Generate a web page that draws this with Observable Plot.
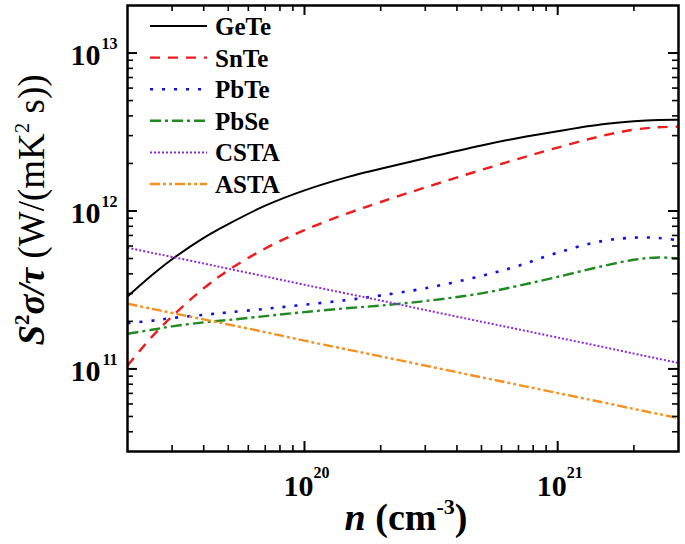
<!DOCTYPE html>
<html>
<head>
<meta charset="utf-8">
<script src="https://cdn.jsdelivr.net/npm/d3@7"></script>
<script src="https://cdn.jsdelivr.net/npm/@observablehq/plot@0.6"></script>
<style>
  html, body { margin: 0; padding: 0; background: #fff; }
  #chart svg { display: block; }
</style>
</head>
<body>
<div id="chart"></div>
<script>
// ---- data ----
const n = [2e19, 2.5e19, 3e19, 4e19, 5e19, 7e19, 1e20, 1.5e20, 2e20, 3e20, 5e20, 7e20, 1e21, 1.5e21, 2e21, 2.5e21, 3e21];
const GeTe = [2.87e11, 3.93e11, 4.95e11, 6.76e11, 8.26e11, 1.08e12, 1.35e12, 1.65e12, 1.85e12, 2.16e12, 2.6e12, 2.9e12, 3.2e12, 3.54e12, 3.70e12, 3.77e12, 3.78e12];
const SnTe = [1.05e11, 1.6e11, 2.15e11, 3.24e11, 4.21e11, 5.79e11, 7.57e11, 9.73e11, 1.14e12, 1.41e12, 1.82e12, 2.14e12, 2.52e12, 2.99e12, 3.27e12, 3.39e12, 3.42e12];
const PbTe = [1.95e11, 2.02e11, 2.1e11, 2.2e11, 2.28e11, 2.4e11, 2.55e11, 2.74e11, 2.92e11, 3.24e11, 3.88e11, 4.5e11, 5.45e11, 6.45e11, 6.78e11, 6.75e11, 6.52e11];
const PbSe = [1.67e11, 1.77e11, 1.86e11, 1.97e11, 2.04e11, 2.16e11, 2.29e11, 2.43e11, 2.52e11, 2.69e11, 3.01e11, 3.36e11, 3.83e11, 4.47e11, 4.91e11, 5.08e11, 5.0e11];
const CSTA = [5.86e11, 5.43e11, 5.12e11, 4.65e11, 4.31e11, 3.85e11, 3.41e11, 2.98e11, 2.71e11, 2.36e11, 1.99e11, 1.78e11, 1.58e11, 1.38e11, 1.25e11, 1.16e11, 1.09e11];
const ASTA = [2.59e11, 2.40e11, 2.26e11, 2.06e11, 1.91e11, 1.71e11, 1.51e11, 1.32e11, 1.20e11, 1.05e11, 8.85e10, 7.92e10, 7.03e10, 6.15e10, 5.58e10, 5.18e10, 4.89e10];

const seriesNames = ["GeTe", "SnTe", "PbTe", "PbSe", "CSTA", "ASTA"];
const seriesValues = [GeTe, SnTe, PbTe, PbSe, CSTA, ASTA];

const xMajorTicks = [1e20, 1e21];
const xMajorExps = ["20", "21"];
const xMinorTicks = [3e19, 4e19, 5e19, 6e19, 7e19, 8e19, 9e19, 2e20, 3e20, 4e20, 5e20, 6e20, 7e20, 8e20, 9e20, 2e21];
const yMajorTicks = [1e11, 1e12, 1e13];
const yMajorExps = ["11", "12", "13"];
const yMinorTicks = [4e10, 5e10, 6e10, 7e10, 8e10, 9e10, 2e11, 3e11, 4e11, 5e11, 6e11, 7e11, 8e11, 9e11, 2e12, 3e12, 4e12, 5e12, 6e12, 7e12, 8e12, 9e12];

// ---- styles ----
const styles = {
  GeTe: {stroke: "#000000", dash: null, width: 2},
  SnTe: {stroke: "#ee1c1c", dash: "10,8", width: 2.4},
  PbTe: {stroke: "#1010e0", dash: "3,9", width: 2.6},
  PbSe: {stroke: "#1f8a1f", dash: "11,4,3,4", width: 2.4},
  CSTA: {stroke: "#8a2be2", dash: "2,2", width: 2},
  ASTA: {stroke: "#f7901e", dash: "10,3,3,3,3,3", width: 2.4}
};

const W = 685, H = 544;
const mL = 127, mR = 7, mT = 5, mB = 93;
const pw = W - mL - mR, ph = H - mT - mB;
const FONT = "'Liberation Serif', 'Times New Roman', serif";
const majLen = 10, minLen = 6;

const rows = seriesNames.flatMap((name, si) => n.map((x, i) => ({name, x, y: seriesValues[si][i]})));

const lineMarks = seriesNames.map(name => Plot.line(rows.filter(d => d.name === name), {
  x: "x", y: "y",
  stroke: styles[name].stroke,
  strokeWidth: styles[name].width,
  strokeDasharray: styles[name].dash,
  strokeLinecap: "butt",
  strokeLinejoin: "round",
  curve: "catmull-rom"
}));

const tickStyle = (w) => ({stroke: "black", strokeWidth: w});

const plot = Plot.plot({
  width: W, height: H,
  marginLeft: mL, marginRight: mR, marginTop: mT, marginBottom: mB,
  x: {type: "log", domain: [2e19, 3e21], axis: null},
  y: {type: "log", domain: [3e10, 2e13], axis: null},
  style: {background: "white", fontFamily: FONT},
  marks: [
    ...lineMarks,
    // y ticks, left & right, inward
    Plot.tickY(yMajorTicks, {y: d => d, insetRight: pw - majLen, ...tickStyle(2)}),
    Plot.tickY(yMajorTicks, {y: d => d, insetLeft: pw - majLen, ...tickStyle(2)}),
    Plot.tickY(yMinorTicks, {y: d => d, insetRight: pw - minLen, ...tickStyle(1.6)}),
    Plot.tickY(yMinorTicks, {y: d => d, insetLeft: pw - minLen, ...tickStyle(1.6)}),
    // x ticks, bottom & top, inward
    Plot.tickX(xMajorTicks, {x: d => d, insetTop: ph - majLen, ...tickStyle(2)}),
    Plot.tickX(xMajorTicks, {x: d => d, insetBottom: ph - majLen, ...tickStyle(2)}),
    Plot.tickX(xMinorTicks, {x: d => d, insetTop: ph - minLen, ...tickStyle(1.6)}),
    Plot.tickX(xMinorTicks, {x: d => d, insetBottom: ph - minLen, ...tickStyle(1.6)}),
    Plot.frame({stroke: "black", strokeWidth: 2.5}),
    // x tick labels
    Plot.text(xMajorTicks, {x: d => d, text: () => "10", frameAnchor: "bottom", lineAnchor: "bottom",
      dy: 44, dx: -6, fontSize: 30, fontWeight: "bold", fill: "black"}),
    Plot.text(xMajorTicks, {x: d => d, text: (d, i) => xMajorExps[i], frameAnchor: "bottom", lineAnchor: "bottom",
      dy: 26, dx: 9, textAnchor: "start", fontSize: 16, fontWeight: "bold", fill: "black"}),
    // y tick labels
    Plot.text(yMajorTicks, {y: d => d, text: () => "10", frameAnchor: "left", lineAnchor: "bottom",
      dy: 12, dx: -27, textAnchor: "end", fontSize: 30, fontWeight: "bold", fill: "black"}),
    Plot.text(yMajorTicks, {y: d => d, text: (d, i) => yMajorExps[i], frameAnchor: "left", lineAnchor: "bottom",
      dy: -4, dx: -10, textAnchor: "end", fontSize: 16, fontWeight: "bold", fill: "black"})
  ]
});

document.getElementById("chart").appendChild(plot);

const svg = d3.select(plot);

// ---- legend ----
const leg = svg.append("g").attr("font-family", FONT);
seriesNames.forEach((name, i) => {
  const base = 35 + i * 31.6;
  const s = styles[name];
  leg.append("line")
    .attr("x1", 150).attr("x2", 207)
    .attr("y1", base - 9).attr("y2", base - 9)
    .attr("stroke", s.stroke).attr("stroke-width", s.width)
    .attr("stroke-dasharray", s.dash)
    .attr("stroke-linecap", "butt");
  leg.append("text")
    .attr("x", 215).attr("y", base)
    .attr("text-anchor", "start")
    .attr("font-size", 25).attr("font-weight", "bold")
    .attr("fill", "black")
    .text(name);
});

// ---- x title ----
const xt = svg.append("text")
  .attr("x", 406).attr("y", 530)
  .attr("text-anchor", "middle")
  .attr("font-family", FONT).attr("font-size", 38).attr("font-weight", "bold")
  .attr("fill", "black");
xt.append("tspan").attr("font-style", "italic").text("n");
xt.append("tspan").text(" (cm");
xt.append("tspan").attr("font-size", 22).attr("dy", -16).text("-3");
xt.append("tspan").attr("dy", 16).text(")");

// ---- y title ----
const yt = svg.append("text")
  .attr("transform", "translate(44,210) rotate(-90)")
  .attr("text-anchor", "middle")
  .attr("font-family", FONT).attr("font-size", 37)
  .attr("fill", "black");
yt.append("tspan").attr("font-style", "italic").attr("font-weight", "bold").text("S");
yt.append("tspan").attr("font-weight", "bold").attr("font-size", 21).attr("dy", -15).text("2");
yt.append("tspan").attr("font-style", "italic").attr("font-weight", "bold").attr("dy", 15).text("σ/τ");
yt.append("tspan").text(" (W/(mK");
yt.append("tspan").attr("font-size", 21).attr("dy", -15).text("2");
yt.append("tspan").attr("dy", 15).text(" s))");
</script>
</body>
</html>
